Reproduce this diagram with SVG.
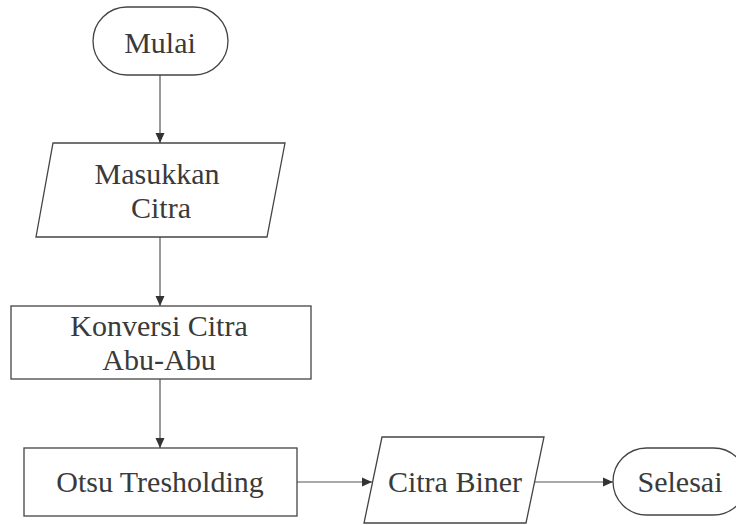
<svg xmlns="http://www.w3.org/2000/svg" width="736" height="525" viewBox="0 0 736 525">
<style>
.s{fill:#fff;stroke:#444;stroke-width:1.3}
.t{font-family:"Liberation Serif","Times New Roman",serif;font-size:30px;fill:#3a3a3a;text-anchor:middle}
.c{fill:none;stroke:#555;stroke-width:1.2}
</style>
<defs>
<marker id="ah" markerWidth="12" markerHeight="12" refX="10" refY="6" orient="auto" markerUnits="userSpaceOnUse">
<path d="M0,1.5 L10,6 L0,10.5 Z" fill="#333"/>
</marker>
</defs>
<rect width="736" height="525" fill="#fff"/>
<g id="connectors">
<line class="c" x1="160" y1="75" x2="160" y2="143" marker-end="url(#ah)"/>
<line class="c" x1="160" y1="237" x2="160" y2="306" marker-end="url(#ah)"/>
<line class="c" x1="160" y1="379" x2="160" y2="448" marker-end="url(#ah)"/>
<line class="c" x1="297" y1="482" x2="372" y2="482" marker-end="url(#ah)"/>
<line class="c" x1="535" y1="482" x2="613" y2="482" marker-end="url(#ah)"/>
</g>
<g id="mulai">
<rect class="s" x="93" y="7" width="135" height="68" rx="34" ry="34"/>
<text class="t" x="160" y="53">Mulai</text>
</g>
<g id="masukkan">
<polygon class="s" points="53,143 285,143 267,237 36,237"/>
<text class="t" x="157" y="184">Masukkan</text>
<text class="t" x="161" y="218">Citra</text>
</g>
<g id="konversi">
<rect class="s" x="11" y="306" width="300" height="73"/>
<text class="t" x="159" y="336">Konversi Citra</text>
<text class="t" x="159" y="370">Abu-Abu</text>
</g>
<g id="otsu">
<rect class="s" x="24" y="448" width="273" height="68"/>
<text class="t" x="160" y="492">Otsu Tresholding</text>
</g>
<g id="citrabiner">
<polygon class="s" points="382,437 544,437 526,523 364,523"/>
<text class="t" x="455" y="492">Citra Biner</text>
</g>
<g id="selesai">
<rect class="s" x="613" y="448" width="134" height="67" rx="33.5" ry="33.5"/>
<text class="t" x="680" y="492">Selesai</text>
</g>
</svg>
